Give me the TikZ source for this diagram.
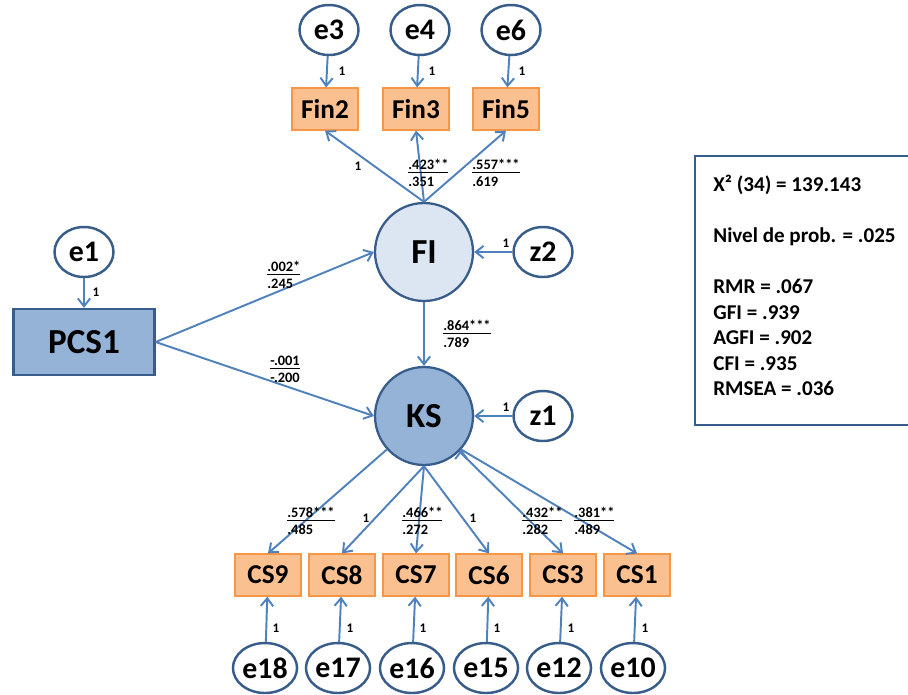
\documentclass[tikz,border=0pt]{standalone}
\usepackage{fontspec}
\setmainfont{Carlito}
\usepackage{xcolor}
\usepackage{tikz}
\usetikzlibrary{arrows.meta,shapes.geometric}
\usetikzlibrary{positioning}

\definecolor{lineblue}{HTML}{4F81BD}
\definecolor{darkblue}{HTML}{385D8A}
\definecolor{paleblue}{HTML}{DCE6F2}
\definecolor{midblue}{HTML}{95B3D7}
\definecolor{boxorange}{HTML}{FAC090}
\definecolor{boxedge}{HTML}{F79646}

\begin{document}
\begin{tikzpicture}[x=0.02cm,y=-0.02cm,>={Straight Barb[length=4.5pt,width=7pt]}]
 	\tikzstyle{obs}=[rectangle, fill=boxorange, draw=boxedge, line width=0.7pt, minimum width=1.32cm, minimum height=0.84cm, inner sep=0pt, font=\fontsize{15.5}{15.5}\selectfont\bfseries]
 	\tikzstyle{err}=[ellipse, fill=white, draw=darkblue, line width=1.4pt, minimum width=1.18cm, minimum height=1cm, inner sep=0pt, font=\fontsize{17}{17}\selectfont\bfseries]
 	\tikzstyle{lat}=[circle, draw=darkblue, line width=1.3pt, minimum size=1.96cm, inner sep=0pt, font=\fontsize{20}{20}\selectfont\bfseries]
 	\tikzstyle{arr}=[->, draw=lineblue, line width=1.1pt]
 	\tikzstyle{one}=[inner sep=0pt, font=\fontsize{7.5}{7.5}\selectfont\bfseries]
 	\tikzstyle{coef}=[align=left, anchor=north west, inner sep=0pt, font=\fontsize{8.2}{9.6}\selectfont\bfseries]
 	\useasboundingbox (0,0) rectangle (908,694);

		% latent variables and predictor
		\node[lat, fill=paleblue] (FI) at (424,252) {FI};
		\node[lat, fill=midblue] (KS) at (424,416) {KS};
		\node[rectangle, fill=midblue, draw=darkblue, line width=1.3pt, minimum width=2.82cm, minimum height=1.32cm, font=\fontsize{20}{20}\selectfont\bfseries] (PCS1) at (84,342) {PCS1};
		\node[err] (e1) at (84,252) {e1};
		\node[err] (z2) at (543,252) {z2};
		\node[err] (z1) at (543,416) {z1};

		% FI indicators
		\node[obs] (Fin2) at (325,109) {Fin2};
		\node[obs] (Fin3) at (416,109) {Fin3};
		\node[obs] (Fin5) at (506,109) {Fin5};
		\node[err] (e3) at (329,30) {e3};
		\node[err] (e4) at (420,30) {e4};
		\node[err] (e6) at (511,30) {e6};

		% KS indicators
		\node[obs] (CS9) at (268,575) {CS9};
		\node[obs] (CS8) at (342,575) {CS8};
		\node[obs] (CS7) at (416,575) {CS7};
		\node[obs] (CS6) at (489,575) {CS6};
		\node[obs] (CS3) at (563,575) {CS3};
		\node[obs] (CS1) at (637,575) {CS1};
		\node[err] (e18) at (265,668) {e18};
		\node[err] (e17) at (338,668) {e17};
		\node[err] (e16) at (412,668) {e16};
		\node[err] (e15) at (486,668) {e15};
		\node[err] (e12) at (559,668) {e12};
		\node[err] (e10) at (633,668) {e10};

		\path[arr]
			(e1) edge (PCS1)
			(z2) edge (FI)
			(z1) edge (KS)
			(PCS1.east) edge (FI.west)
			(PCS1.east) edge (KS.west)
			(FI) edge (KS)
			(FI.north) edge (Fin2.south)
			(FI.north) edge (Fin3.south)
			(FI.north) edge (Fin5.south)
			(e3) edge (Fin2)
			(e4) edge (Fin3)
			(e6) edge (Fin5)
			(KS.-138) edge (CS9.north)
			(KS.south) edge (CS8.north)
			(KS.south) edge (CS7.north)
			(KS.south) edge (CS6.north)
			(KS.-45) edge (CS3.north)
			(KS.-42) edge (CS1.north)
			(e18) edge (CS9)
			(e17) edge (CS8)
			(e16) edge (CS7)
			(e15) edge (CS6)
			(e12) edge (CS3)
			(e10) edge (CS1);

		% weights
		\node[one] (w1) at (96,292) {1};
		\node[one] (w2) at (506,243) {1};
		\node[one] (w3) at (506,407) {1};
		\node[one] (w4) at (342,71) {1};
		\node[one] (w5) at (432,71) {1};
		\node[one] (w6) at (522,71) {1};
		\node[one] (w7) at (358,166) {1};
		\node[one] (w8) at (366,518) {1};
		\node[one] (w9) at (473,518) {1};
		\node[one] (w10) at (276,628) {1};
		\node[one] (w11) at (350,628) {1};
		\node[one] (w12) at (423,628) {1};
		\node[one] (w13) at (497,628) {1};
		\node[one] (w14) at (571,628) {1};
		\node[one] (w15) at (645,628) {1};

		\node[coef] (c1) at (267,261) {\underline{.002*}\\.245};
		\node[coef] (c2) at (270,356) {\underline{-.001}\\-.200};
		\node[coef] (c3) at (443,320) {\underline{.864***}\\.789};
		\node[coef] (c4) at (408,159) {\underline{.423**}\\.351};
		\node[coef] (c5) at (472,159) {\underline{.557***}\\.619};
		\node[coef] (c6) at (287,507) {\underline{.578***}\\.485};
		\node[coef] (c7) at (402,507) {\underline{.466**}\\.272};
		\node[coef] (c8) at (522,507) {\underline{.432**}\\.282};
		\node[coef] (c9) at (574,507) {\underline{.381**}\\.489};

		% fit indices
		\draw[darkblue, line width=1.3pt] (695,156) rectangle (914,425);
		\node[align=left, anchor=north west, inner sep=0pt, font=\fontsize{12}{14.5}\selectfont\bfseries] (fit) at (713,175)
			{X² (34) = 139.143\\[14.5pt] Nivel de prob. = .025\\[14.5pt] RMR = .067\\ GFI = .939\\ AGFI = .902\\ CFI = .935\\ RMSEA = .036};
 				\end{tikzpicture}
\end{document}
